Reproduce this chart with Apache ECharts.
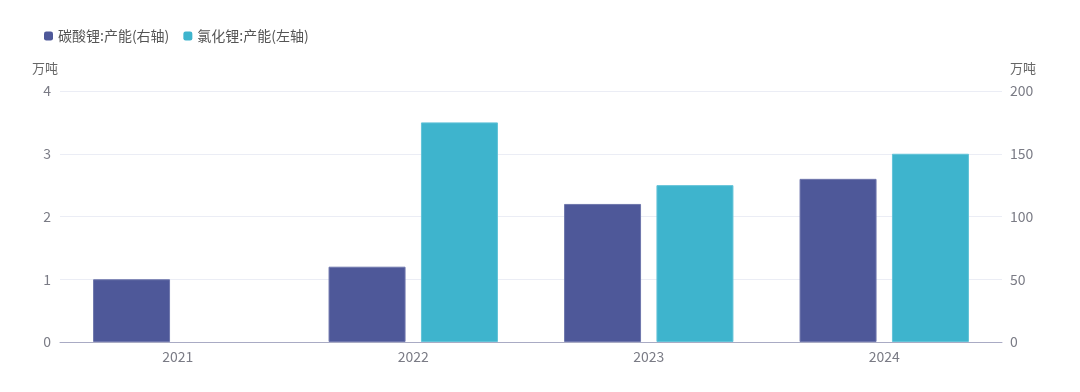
<!DOCTYPE html>
<html><head><meta charset="utf-8">
<script src="https://cdn.jsdelivr.net/npm/echarts@6/dist/echarts.min.js"></script>
<style>html,body{margin:0;padding:0;background:#fff}#c{width:1080px;height:392px}</style>
</head><body><div id="c"></div>
<script>
const categories = ['2021', '2022', '2023', '2024'];
const carbonateCapacity = [50, 60, 110, 130];      // 碳酸锂:产能 (右轴)
const chlorideCapacity = [null, 3.5, 2.5, 3];      // 氯化锂:产能 (左轴)
const seriesNames = ['碳酸锂:产能(右轴)', '氯化锂:产能(左轴)'];
const unitName = '万吨';

const chart = echarts.init(document.getElementById('c'));
const font = '"Noto Sans CJK SC", "Noto Sans", sans-serif';
const axisLabel = { color: '#7a7b85', fontSize: 14, fontFamily: font };
chart.setOption({
  animation: false,
  textStyle: { fontFamily: font },
  legend: {
    left: 39, top: 24, itemWidth: 9, itemHeight: 9, itemGap: 14, icon: 'roundRect',
    itemStyle: { borderWidth: 0 },
    textStyle: { color: '#555', fontSize: 14, fontFamily: font },
    data: seriesNames
  },
  grid: { left: 60, right: 78, top: 91, bottom: 50, containLabel: false },
  xAxis: {
    type: 'category', data: categories,
    axisLine: { lineStyle: { color: '#a9abc4' } },
    axisTick: { show: false },
    axisLabel: { color: '#7a7b85', fontSize: 14, fontFamily: font, margin: 8 }
  },
  yAxis: [
    {
      type: 'value', min: 0, max: 4, interval: 1, name: unitName,
      nameTextStyle: { color: '#666', fontSize: 13, fontFamily: font, align: 'right', padding: [0, 2, 2, 0] },
      nameGap: 14,
      axisLine: { show: false }, axisTick: { show: false },
      axisLabel: Object.assign({ margin: 9 }, axisLabel),
      splitLine: { lineStyle: { color: '#ebedf5' } }
    },
    {
      type: 'value', min: 0, max: 200, interval: 50, name: unitName,
      nameTextStyle: { color: '#666', fontSize: 13, fontFamily: font, align: 'left', padding: [0, 0, 2, 8] },
      nameGap: 14,
      axisLine: { show: false }, axisTick: { show: false },
      axisLabel: Object.assign({ margin: 8 }, axisLabel),
      splitLine: { show: false }
    }
  ],
  series: [
    {
      name: seriesNames[0], type: 'bar', yAxisIndex: 1, data: carbonateCapacity,
      barWidth: 77, barGap: '20%',
      itemStyle: { color: '#4e5899', borderColor: '#6f77ad', borderWidth: 1 }
    },
    {
      name: seriesNames[1], type: 'bar', yAxisIndex: 0, data: chlorideCapacity,
      barWidth: 77, barGap: '20%',
      itemStyle: { color: '#3eb4cd', borderColor: '#62c3d8', borderWidth: 1 }
    }
  ]
});
</script></body></html>
